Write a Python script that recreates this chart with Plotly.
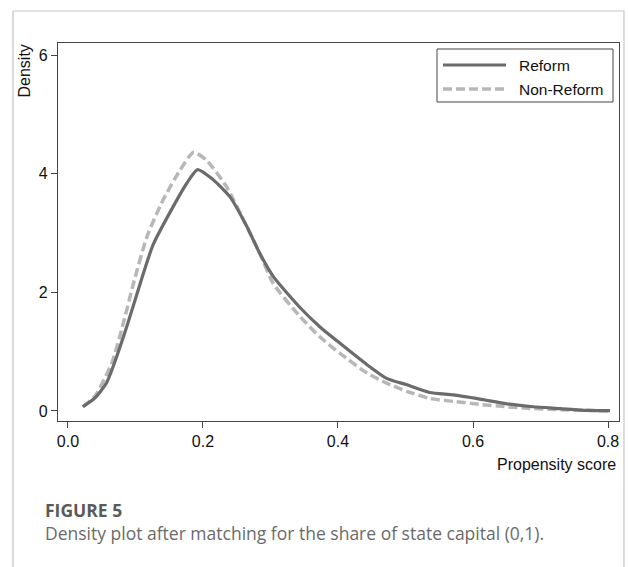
import plotly.graph_objects as go

# Kernel density estimates of the propensity score, by group
reform_x = [0.022, 0.040, 0.057, 0.065, 0.087, 0.107, 0.126, 0.156, 0.176, 0.192,
            0.215, 0.240, 0.265, 0.284, 0.304, 0.344, 0.373, 0.403, 0.443, 0.472,
            0.502, 0.536, 0.571, 0.610, 0.650, 0.689, 0.729, 0.768, 0.803]
reform_y = [0.07, 0.22, 0.47, 0.69, 1.42, 2.15, 2.80, 3.45, 3.84, 4.07,
            3.90, 3.61, 3.11, 2.66, 2.27, 1.74, 1.42, 1.14, 0.78, 0.55,
            0.44, 0.31, 0.27, 0.20, 0.12, 0.07, 0.04, 0.01, 0.005]

nonreform_x = [0.022, 0.040, 0.065, 0.082, 0.097, 0.117, 0.141, 0.166, 0.186, 0.205,
               0.235, 0.260, 0.284, 0.304, 0.344, 0.373, 0.403, 0.443, 0.472, 0.502,
               0.536, 0.571, 0.610, 0.650, 0.689, 0.729, 0.768, 0.803]
nonreform_y = [0.07, 0.25, 0.81, 1.48, 2.15, 2.94, 3.56, 4.06, 4.36, 4.23,
               3.78, 3.22, 2.66, 2.15, 1.59, 1.25, 0.97, 0.64, 0.47, 0.33,
               0.21, 0.16, 0.11, 0.07, 0.04, 0.02, 0.01, 0.0]

series_names = ["Reform", "Non-Reform"]
x_ticks = [0.0, 0.2, 0.4, 0.6, 0.8]
x_tick_labels = ["0.0", "0.2", "0.4", "0.6", "0.8"]
y_ticks = [0, 2, 4, 6]

W, H = 628, 567
L, R, T, B = 58, 619, 43, 421  # plot area in pixels

def px(x):
    return (x - L) / (R - L)

def py(y):
    return (B - y) / (B - T)

SOLID = "#6b6b6b"
DASHED = "#b7b7b7"
AXIS = "#444444"
TXT = "#111111"
FONT = "Liberation Sans, Arial, sans-serif"
CAP_FONT = "Open Sans, sans-serif"

fig = go.Figure()
fig.add_trace(go.Scatter(
    x=nonreform_x, y=nonreform_y, mode="lines", name=series_names[1],
    line=dict(color=DASHED, width=3.5, dash="9px,4px", shape="spline", smoothing=0.6),
    showlegend=False, hoverinfo="skip"))
fig.add_trace(go.Scatter(
    x=reform_x, y=reform_y, mode="lines", name=series_names[0],
    line=dict(color=SOLID, width=3.2, shape="spline", smoothing=0.6),
    showlegend=False, hoverinfo="skip"))

fig.update_layout(
    width=W, height=H,
    margin=dict(l=L, r=W - R, t=T, b=H - B, pad=0),
    paper_bgcolor="white", plot_bgcolor="white",
    font=dict(family=FONT, size=16, color=TXT),
    xaxis=dict(range=[-0.0148, 0.8163], tickvals=x_ticks, ticktext=x_tick_labels,
               showgrid=False, zeroline=False, showline=True, linecolor=AXIS,
               linewidth=1.3, mirror=True, ticks="outside", ticklen=6,
               tickcolor=AXIS, tickfont=dict(size=16, color=TXT)),
    yaxis=dict(range=[-0.17, 6.205], tickvals=y_ticks, showgrid=False,
               zeroline=False, showline=True, linecolor=AXIS, linewidth=1.3,
               mirror=True, ticks="outside", ticklen=6, tickcolor=AXIS,
               tickfont=dict(size=16, color=TXT)),
)

shapes = []
annotations = []

# card outline around the figure and caption
for x0, y0, x1, y1 in [(13, 11, 624, 11), (13, 11, 13, 570), (624, 11, 624, 570)]:
    shapes.append(dict(type="line", xref="paper", yref="paper",
                       x0=px(x0), y0=py(y0), x1=px(x1), y1=py(y1),
                       line=dict(color="#c4c4c4", width=1.2)))

# legend box
shapes.append(dict(type="rect", xref="paper", yref="paper",
                   x0=px(437), y0=py(102), x1=px(613), y1=py(49),
                   line=dict(color=AXIS, width=1), fillcolor="white", layer="above"))
shapes.append(dict(type="line", xref="paper", yref="paper",
                   x0=px(443), y0=py(65), x1=px(506), y1=py(65),
                   line=dict(color=SOLID, width=3.2), layer="above"))
shapes.append(dict(type="line", xref="paper", yref="paper",
                   x0=px(443), y0=py(89), x1=px(506), y1=py(89),
                   line=dict(color=DASHED, width=3.5, dash="9px,4px"), layer="above"))
for name, yy in zip(series_names, [65, 89]):
    annotations.append(dict(text=name, xref="paper", yref="paper",
                            x=px(517), y=py(yy), xanchor="left", yanchor="middle",
                            showarrow=False, font=dict(family=FONT, size=15.5, color=TXT)))

# axis titles
annotations.append(dict(text="Density", xref="paper", yref="paper",
                        x=px(24), y=py(43), xanchor="center", yanchor="top",
                        textangle=-90, showarrow=False,
                        font=dict(family=FONT, size=16, color=TXT)))
annotations.append(dict(text="Propensity score", xref="paper", yref="paper",
                        x=px(618), y=py(464), xanchor="right", yanchor="middle",
                        showarrow=False, font=dict(family=FONT, size=16, color=TXT)))

# figure caption
annotations.append(dict(text="<b>FIGURE 5</b>", xref="paper", yref="paper",
                        x=px(43), y=py(510), xanchor="left", yanchor="middle",
                        showarrow=False,
                        font=dict(family=CAP_FONT, size=17.5, color="#5a5a5a")))
annotations.append(dict(text="Density plot after matching for the share of state capital (0,1).",
                        xref="paper", yref="paper",
                        x=px(43), y=py(533), xanchor="left", yanchor="middle",
                        showarrow=False,
                        font=dict(family=CAP_FONT, size=17.5, color="#6a6a6a")))

fig.update_layout(shapes=shapes, annotations=annotations)
fig.write_html("out.html")
